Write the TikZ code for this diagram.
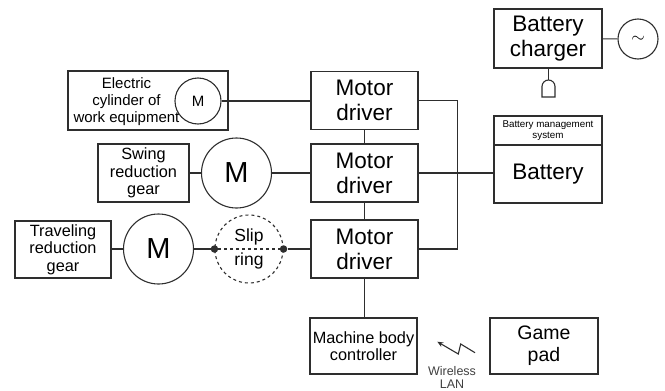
\documentclass[tikz,border=0pt]{standalone}
\usepackage{fontspec}
\setmainfont{Liberation Sans}
\usepackage{tikz}
\usetikzlibrary{arrows.meta,positioning,calc}
\colorlet{lc}{black!82}
\newcommand\fsz[2]{\fontsize{#1}{#2}\selectfont}
\tikzset{
  blk/.style={draw=lc, line width=1.1pt, inner sep=0pt, align=center},
  drv/.style={blk, minimum width=107, minimum height=58, font=\fsz{22.5}{25}},
  mot/.style={blk, circle, minimum size=70, font=\fsz{29}{30}},
  gear/.style={blk, font=\fsz{16.3}{17.5}},
  dot/.style={circle, fill=lc, inner sep=0pt, minimum size=7.5},
  ln/.style={draw=lc, line width=1.1pt},
}
\begin{document}
\begin{tikzpicture}[x=1pt, y=-1pt]
\useasboundingbox (0,0) rectangle (665,391);
% motor drivers
\node[drv] (md1) at (364.5,100.5) {Motor\\driver};
\node[drv] (md2) at (364.5,173) {Motor\\driver};
\node[drv] (md3) at (364.5,249) {Motor\\driver};
\node[blk, minimum width=107, minimum height=56, font=\fsz{16.3}{17.5}] (mbc) at (363.5,346) {Machine body\\controller};
% electric cylinder
\node[blk, minimum width=160, minimum height=59] (ecbox) at (148,100.5) {};
\node[align=center, inner sep=0pt, font=\fsz{15}{17.3}] (ectext) at (126.5,101.5) {Electric\\cylinder of\\work equipment};
\node[blk, circle, minimum size=46, font=\fsz{15}{16}] (ecm) at (198,101) {M};
% swing
\node[gear, minimum width=91, minimum height=58] (swbox) at (143.5,173) {Swing\\reduction\\gear};
\node[mot] (swm) at (236.5,173) {M};
% traveling
\node[gear, minimum width=96, minimum height=57] (trbox) at (63,249.5) {Traveling\\reduction\\gear};
\node[mot] (trm) at (158.5,249) {M};
\node[blk, circle, dashed, minimum size=68, font=\fsz{17.5}{24}] (slip) at (249,249) {Slip\\ring};
\node[dot] (sl1) at (slip.west) {};
\node[dot] (sl2) at (slip.east) {};
% battery side
\node[blk, minimum width=108, minimum height=59, font=\fsz{22.5}{25}] (chg) at (548,38.5) {Battery\\charger};
\node[blk, circle, minimum size=40, font=\fsz{17}{17}] (ac) at (638,39) {$\sim$};
\node[blk, minimum width=108, minimum height=29, font=\fsz{9.8}{11}] (bms) at (548,130.5) {Battery management\\system};
\node[blk, minimum width=108, minimum height=58, font=\fsz{22.5}{25}] (batt) at (548,174) {Battery};
\node[blk, minimum width=108, minimum height=56, font=\fsz{19.5}{22}] (pad) at (544,346) {Game\\pad};
\coordinate (plug) at (548.5,80);
% connections
\draw[ln] (ecm) -- (md1.west |- ecm);
\draw[ln] (swbox) -- (swm);
\draw[ln] (swm) -- (md2);
\draw[ln] (trbox.east |- trm) -- (trm);
\draw[ln] (trm) -- (sl1);
\draw[ln, dashed] (sl1) -- (sl2);
\draw[ln] (sl2) -- (md3.west |- sl2);
\draw[ln] (md1) -- (md2);
\draw[ln] (md2) -- (md3);
\draw[ln] (md3.south) -- (md3.south |- mbc.north);
\draw[ln] (md1.east) -- ++(39,0) |- (md3.east);
\draw[ln] (md2.east) -- (md2.east -| batt.west);
\draw[ln] (chg) -- (ac);
\draw[ln] (chg.south -| plug) -- (plug);
\draw[ln] (plug) ++(-6.5,17) -- ++(0,-10.5) arc[start angle=180, end angle=360, radius=6.5] -- ++(0,10.5) -- cycle;
% wireless link
\coordinate (wla) at (475,352.7);
\coordinate (wlb) at (437.3,341.7);
\draw[ln, -{Stealth[length=6pt, width=5pt]}] (wla) -- (460.7,344) -- (458.3,354) -- (wlb);
\node[align=center, inner sep=0pt, anchor=north, text=black!75, font=\fsz{12.5}{13.2}] (wlan) at (452,366.5) {Wireless\\LAN};
\end{tikzpicture}
\end{document}
